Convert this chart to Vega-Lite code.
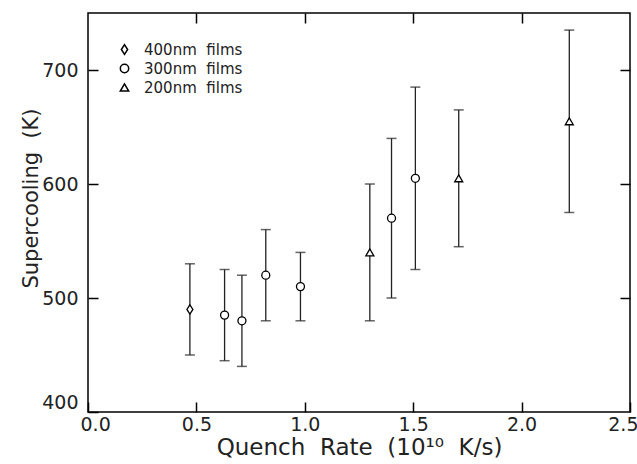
{
  "$schema": "https://vega.github.io/schema/vega-lite/v6.json",
  "width": 542,
  "height": 399,
  "autosize": {"type": "none"},
  "padding": {"left": 88, "top": 13, "right": 7, "bottom": 52},
  "background": "white",
  "config": {
    "font": "DejaVu Sans",
    "view": {"stroke": "black", "strokeWidth": 1.5},
    "axis": {
      "grid": false,
      "labelFont": "DejaVu Sans",
      "labelFontSize": 19,
      "labelColor": "#222",
      "titleFont": "DejaVu Sans",
      "titleFontSize": 21,
      "titleFontWeight": "normal",
      "titleColor": "#222"
    }
  },
  "data": {
    "values": [
      {"rate": 0.47, "val": 490, "lo": 450, "hi": 530, "film": "400nm films"},
      {"rate": 0.63, "val": 485, "lo": 445, "hi": 525, "film": "300nm films"},
      {"rate": 0.71, "val": 480, "lo": 440, "hi": 520, "film": "300nm films"},
      {"rate": 0.82, "val": 520, "lo": 480, "hi": 560, "film": "300nm films"},
      {"rate": 0.98, "val": 510, "lo": 480, "hi": 540, "film": "300nm films"},
      {"rate": 1.30, "val": 540, "lo": 480, "hi": 600, "film": "200nm films"},
      {"rate": 1.40, "val": 570, "lo": 500, "hi": 640, "film": "300nm films"},
      {"rate": 1.51, "val": 605, "lo": 525, "hi": 685, "film": "300nm films"},
      {"rate": 1.71, "val": 605, "lo": 545, "hi": 665, "film": "200nm films"},
      {"rate": 2.22, "val": 655, "lo": 575, "hi": 735, "film": "200nm films"}
    ]
  },
  "layer": [
    {
      "mark": {"type": "rule", "color": "#222", "strokeWidth": 1.3},
      "encoding": {
        "x": {
          "field": "rate", "type": "quantitative",
          "scale": {"domain": [0, 2.5], "nice": false, "zero": false},
          "axis": {
            "orient": "bottom",
            "values": [0, 0.5, 1, 1.5, 2, 2.5],
            "format": ".1f",
            "domain": false,
            "zindex": 1,
            "tickColor": "black",
            "tickSize": 10,
            "tickWidth": 1.5,
            "offset": -10,
            "labelPadding": 3,
            "labelFlush": true,
            "labelFlushOffset": 8,
            "title": "Quench\u00a0\u00a0Rate\u00a0\u00a0(10\u00b9\u2070\u00a0\u00a0K/s)",
            "titleFontSize": 23,
            "titlePadding": 2
          }
        },
        "y": {
          "field": "lo", "type": "quantitative",
          "scale": {"domain": [400, 750], "nice": false, "zero": false},
          "axis": {
            "orient": "left",
            "values": [400, 500, 600, 700],
            "domain": false,
            "zindex": 1,
            "tickColor": "black",
            "tickSize": 10,
            "tickWidth": 1.5,
            "offset": -10,
            "labelPadding": 10,
            "labelFlush": true,
            "labelFlushOffset": 0,
            "title": "Supercooling\u00a0\u00a0(K)",
            "titlePadding": 0,
            "titleY": 185
          }
        },
        "y2": {"field": "hi"}
      }
    },
    {
      "mark": {"type": "tick", "orient": "horizontal", "size": 10, "thickness": 1.5, "color": "#222"},
      "encoding": {
        "x": {"field": "rate", "type": "quantitative", "axis": null},
        "y": {"field": "lo", "type": "quantitative", "axis": null}
      }
    },
    {
      "mark": {"type": "tick", "orient": "horizontal", "size": 10, "thickness": 1.5, "color": "#222"},
      "encoding": {
        "x": {"field": "rate", "type": "quantitative", "axis": null},
        "y": {"field": "hi", "type": "quantitative", "axis": null}
      }
    },
    {
      "mark": {"type": "point", "filled": false, "fill": "white", "color": "black", "strokeWidth": 1.3, "size": 64, "opacity": 1, "fillOpacity": 1},
      "encoding": {
        "x": {
          "field": "rate", "type": "quantitative",
          "axis": {"orient": "top", "values": [0.5, 1, 1.5, 2], "labels": false, "title": null, "domain": false, "zindex": 1, "tickColor": "black", "tickWidth": 1.5, "tickSize": 10, "offset": -10}
        },
        "y": {
          "field": "val", "type": "quantitative",
          "axis": {"orient": "right", "values": [500, 600, 700], "labels": false, "title": null, "domain": false, "zindex": 1, "tickColor": "black", "tickWidth": 1.5, "tickSize": 10, "offset": -10}
        },
        "shape": {
          "field": "film", "type": "nominal",
          "scale": {
            "domain": ["400nm films", "300nm films", "200nm films"],
            "range": ["M0,-1.15L0.75,0L0,1.15L-0.75,0Z", "circle", "triangle-up"]
          },
          "legend": {
            "orient": "none",
            "legendX": 29,
            "legendY": 29,
            "title": null,
            "labelFont": "DejaVu Sans",
            "labelFontSize": 15,
            "labelColor": "#222",
            "labelOffset": 12,
            "rowPadding": 3,
            "symbolSize": 70,
            "symbolOpacity": 1,
            "labelExpr": "replace(datum.label, ' ', '\u00a0\u00a0')"
          }
        }
      }
    }
  ],
  "resolve": {"axis": {"x": "independent", "y": "independent"}}
}
